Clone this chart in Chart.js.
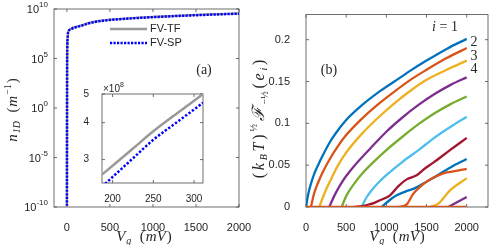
<!DOCTYPE html>
<html>
<head>
<meta charset="utf-8">
<script src="https://cdn.jsdelivr.net/npm/chart.js@4.4.1/dist/chart.umd.min.js"></script>
<style>
    body { margin: 0; background: #fff; }
    #wrap { position: relative; width: 491px; height: 245px; overflow: hidden; }
    canvas { position: absolute; }
</style>
</head>
<body>
<div id="wrap">
    <canvas id="chartA" width="270" height="245" style="left:0;top:0;width:270px;height:245px"></canvas>
    <canvas id="chartB" width="246" height="245" style="left:245px;top:0;width:246px;height:245px"></canvas>
    <canvas id="inset" width="130" height="122" style="left:80px;top:80px;width:130px;height:122px"></canvas>
</div>
<script>
// panel (a): n_1D vs gate voltage
const vgMain = [0, 2, 4, 8, 15, 40, 75, 150, 190, 250, 311, 400, 500, 750, 1000, 1250, 1500, 1750, 2000];
const nTF = [1e-12, 1e3, 1e6, 1e7, 5e7, 9e7, 1.3e8, 2e8, 2.5e8, 3.7e8, 5e8, 6.6e8, 8.3e8, 1.2e9, 1.6e9, 2e9, 2.5e9, 3e9, 3.6e9];
const nSP = [1e-12, 1e3, 9e5, 9e6, 4.6e7, 8.3e7, 1.2e8, 1.85e8, 2.35e8, 3.5e8, 4.67e8, 6.2e8, 7.8e8, 1.13e9, 1.5e9, 1.9e9, 2.35e9, 2.85e9, 3.4e9];
const seriesNames = ["FV-TF", "FV-SP"];
const xTicksA = [0, 500, 1000, 1500, 2000];
const yTicksA = [1e-10, 1e-5, 1, 1e5, 1e10];

// inset (zoom around 200-300 mV)
const vgInset = [187, 200, 225, 250, 275, 300, 311];
const insetTF = [2.67e8, 2.86e8, 3.27e8, 3.74e8, 4.22e8, 4.74e8, 5.0e8];
const insetSP = [2.43e8, 2.62e8, 3.03e8, 3.5e8, 3.94e8, 4.43e8, 4.67e8];
const xTicksInset = [200, 250, 300];
const yTicksInset = [3e8, 4e8, 5e8];

// panel (b): one [Vg, value] list per subband i
const sub1 = [[0, 0], [25, 0.014], [50, 0.024], [100, 0.039], [150, 0.050], [200, 0.060], [300, 0.078], [400, 0.092], [500, 0.104], [700, 0.122], [900, 0.137], [1100, 0.150], [1300, 0.163], [1500, 0.175], [1750, 0.189], [2000, 0.201]];
const sub2 = [[62, 0], [100, 0.016], [150, 0.029], [200, 0.040], [300, 0.058], [400, 0.073], [500, 0.086], [700, 0.106], [900, 0.123], [1100, 0.138], [1300, 0.152], [1500, 0.164], [1750, 0.178], [2000, 0.190]];
const sub3 = [[166, 0], [200, 0.009], [250, 0.021], [300, 0.031], [400, 0.050], [500, 0.065], [700, 0.088], [900, 0.107], [1100, 0.124], [1300, 0.139], [1500, 0.152], [1750, 0.164], [2000, 0.175]];
const sub4 = [[290, 0], [350, 0.013], [400, 0.022], [450, 0.030], [500, 0.037], [600, 0.049], [800, 0.070], [1000, 0.090], [1200, 0.107], [1400, 0.122], [1600, 0.135], [1800, 0.146], [2000, 0.155]];
const sub5 = [[444, 0], [500, 0.013], [550, 0.021], [600, 0.028], [700, 0.040], [800, 0.050], [1000, 0.068], [1200, 0.084], [1400, 0.099], [1600, 0.112], [1800, 0.123], [2000, 0.132]];
const sub6 = [[693, 0], [750, 0.011], [800, 0.018], [900, 0.029], [1000, 0.038], [1200, 0.054], [1400, 0.068], [1600, 0.083], [1800, 0.096], [2000, 0.108]];
const sub7 = [[600, 0], [700, 0.001], [755, 0.0023], [850, 0.005], [921, 0.008], [1046, 0.014], [1150, 0.025], [1253, 0.033], [1377, 0.038], [1480, 0.046], [1585, 0.053], [1792, 0.068], [2000, 0.0826]];
const sub8 = [[942, 0], [1050, 0.009], [1129, 0.014], [1250, 0.019], [1336, 0.0217], [1460, 0.028], [1585, 0.035], [1792, 0.047], [2000, 0.0574]];
const sub9 = [[1150, 0], [1253, 0.003], [1336, 0.016], [1460, 0.0275], [1585, 0.035], [1700, 0.04], [1792, 0.042], [2000, 0.0457]];
const sub10 = [[1540, 0], [1647, 0.004], [1792, 0.0198], [2000, 0.0345]];
const sub11 = [[1770, 0], [2000, 0.012]];
const subZero = [[0, 0], [2000, 0]];
const xTicksB = [0, 500, 1000, 1500, 2000];
const yTicksB = [0, 0.05, 0.1, 0.15, 0.2];

const matlabColors = ["#0072BD", "#D95319", "#EDB120", "#7E2F8E", "#77AC30", "#4DBEEE", "#A2142F"];
const axisColor = "#262626";
const tickFont = { family: "'Liberation Sans', Arial", size: 11 };

Chart.defaults.animation = false;
Chart.defaults.responsive = false;
Chart.defaults.color = axisColor;

function toXY(xs, ys) { return xs.map((x, i) => ({ x: x, y: ys[i] })); }
function pairs(arr) { return arr.map(p => ({ x: p[0], y: p[1] })); }

// text with sub/superscripts: parts = [text, font, dy]
function drawMath(ctx, parts, x, y, angle, gap) {
    gap = gap || 0;
    ctx.save();
    ctx.translate(x, y);
    ctx.rotate(angle || 0);
    ctx.textAlign = "left";
    ctx.textBaseline = "alphabetic";
    ctx.fillStyle = axisColor;
    let total = -gap;
    parts.forEach(p => { ctx.font = p[1]; total += ctx.measureText(p[0]).width + gap; });
    let cx = -total / 2;
    parts.forEach(p => {
        ctx.font = p[1];
        ctx.fillText(p[0], cx, p[2] || 0);
        cx += ctx.measureText(p[0]).width + gap;
    });
    ctx.restore();
}

const IT = "italic 15px 'Liberation Serif'";
const RM = "15px 'Liberation Serif'";
const SUB = "italic 10px 'Liberation Serif'";
const SUBR = "10px 'Liberation Serif'";

// box with inward ticks on all four sides (matlab style)
const framePlugin = {
    id: "frame",
    beforeDatasetsDraw(chart) {
        const { ctx, chartArea: a, scales } = chart;
        const tl = 3;
        ctx.save();
        ctx.strokeStyle = "#4a4a4a";
        ctx.lineWidth = 0.8;
        ctx.strokeRect(a.left, a.top, a.right - a.left, a.bottom - a.top);
        ctx.beginPath();
        scales.x.ticks.forEach(t => {
            const px = scales.x.getPixelForValue(t.value);
            ctx.moveTo(px, a.bottom); ctx.lineTo(px, a.bottom - tl);
            ctx.moveTo(px, a.top); ctx.lineTo(px, a.top + tl);
        });
        scales.y.ticks.forEach(t => {
            const py = scales.y.getPixelForValue(t.value);
            ctx.moveTo(a.left, py); ctx.lineTo(a.left + tl, py);
            ctx.moveTo(a.right, py); ctx.lineTo(a.right - tl, py);
        });
        ctx.stroke();
        ctx.restore();
    }
};

// ---------- panel (a) ----------
const annotA = {
    id: "annotA",
    afterDraw(chart) {
        const ctx = chart.ctx;
        const ys = chart.scales.y;
        // 10^k tick labels
        ctx.save();
        ctx.fillStyle = axisColor;
        ctx.textBaseline = "middle";
        ctx.textAlign = "right";
        ys.ticks.forEach(t => {
            const py = ys.getPixelForValue(t.value);
            const ex = String(Math.round(Math.log10(t.value)));
            ctx.font = "8px 'Liberation Sans', Arial";
            const ew = ctx.measureText(ex).width;
            ctx.fillText(ex, 48, py - 4);
            ctx.font = "11px 'Liberation Sans', Arial";
            ctx.fillText("10", 48 - ew, py + 1);
        });
        // legend
        chart.data.datasets.forEach((ds, i) => {
            const y = 29 + 14 * i;
            ctx.beginPath();
            ctx.strokeStyle = ds.borderColor;
            ctx.lineWidth = ds.borderWidth;
            ctx.setLineDash(ds.borderDash || []);
            ctx.moveTo(110, y); ctx.lineTo(147, y);
            ctx.stroke();
            ctx.setLineDash([]);
            ctx.textAlign = "left";
            ctx.font = "11px 'Liberation Sans', Arial";
            ctx.fillText(ds.label, 150, y);
        });
        ctx.font = "14px 'Liberation Serif'";
        ctx.textAlign = "center";
        ctx.fillText("(a)", 204, 70);
        ctx.restore();
        drawMath(ctx, [["V", IT], ["g", SUB, 3], ["  (", RM], ["mV", IT], [")", RM]], 144, 241, 0, 1);
        drawMath(ctx, [["n", IT], ["1D", SUB, 3], ["  (", RM], ["m", IT], ["\u22121", SUBR, -6], [")", RM]], 17, 110, -Math.PI / 2, 1);
    }
};

new Chart(document.getElementById("chartA").getContext("2d"), {
    type: "line",
    data: {
        datasets: [
            { label: seriesNames[0], data: toXY(vgMain, nTF), borderColor: "#999999", borderWidth: 2.3, order: 0 },
            { label: seriesNames[1], data: toXY(vgMain, nSP), borderColor: "#0000FF", borderWidth: 2.5, borderDash: [2.2, 1.3], order: -1 }
        ]
    },
    options: {
        layout: { padding: { left: 0, top: 9, right: 31, bottom: 0 } },
        elements: { point: { radius: 0 }, line: { cubicInterpolationMode: "monotone" } },
        plugins: { legend: { display: false }, tooltip: { enabled: false } },
        scales: {
            x: {
                type: "linear", min: -150, max: 2000,
                grid: { display: false }, border: { display: false },
                ticks: { font: tickFont, padding: 6, maxRotation: 0, callback: v => String(v) },
                afterBuildTicks: s => { s.ticks = xTicksA.map(v => ({ value: v })); },
                afterFit: s => { s.height = 38; }
            },
            y: {
                type: "logarithmic", min: 1e-10, max: 1e10,
                grid: { display: false }, border: { display: false },
                ticks: { display: false },
                afterBuildTicks: s => { s.ticks = yTicksA.map(v => ({ value: v })); },
                afterFit: s => { s.width = 54; }
            }
        }
    },
    plugins: [framePlugin, annotA]
});

// ---------- inset ----------
const annotInset = {
    id: "annotInset",
    afterDraw(chart) {
        const ctx = chart.ctx;
        ctx.save();
        ctx.fillStyle = axisColor;
        ctx.textBaseline = "middle";
        ctx.textAlign = "left";
        ctx.font = "10px 'Liberation Sans', Arial";
        ctx.fillText("\u00d710", 23, 9);
        const w = ctx.measureText("\u00d710").width;
        ctx.font = "7px 'Liberation Sans', Arial";
        ctx.fillText("8", 23 + w, 5);
        ctx.restore();
    }
};

const insetBg = {
    id: "insetBg",
    beforeDraw(chart) {
        const { ctx, chartArea: a } = chart;
        ctx.save();
        ctx.fillStyle = "#fff";
        ctx.fillRect(a.left, a.top, a.right - a.left, a.bottom - a.top);
        ctx.restore();
    }
};

new Chart(document.getElementById("inset").getContext("2d"), {
    type: "line",
    data: {
        datasets: [
            { data: toXY(vgInset, insetTF), borderColor: "#999999", borderWidth: 2.5, order: 0 },
            { data: toXY(vgInset, insetSP), borderColor: "#0000FF", borderWidth: 2.5, borderDash: [2.4, 1.8], order: -1 }
        ]
    },
    options: {
        layout: { padding: { left: 0, top: 14, right: 7, bottom: 0 } },
        elements: { point: { radius: 0 }, line: { cubicInterpolationMode: "monotone" } },
        plugins: { legend: { display: false }, tooltip: { enabled: false } },
        scales: {
            x: {
                type: "linear", min: 187, max: 311,
                grid: { display: false }, border: { display: false },
                ticks: { font: { family: tickFont.family, size: 10 }, padding: 2, maxRotation: 0, callback: v => String(v) },
                afterBuildTicks: s => { s.ticks = xTicksInset.map(v => ({ value: v })); },
                afterFit: s => { s.height = 19; }
            },
            y: {
                type: "logarithmic", min: 2.5e8, max: 5e8,
                grid: { display: false }, border: { display: false },
                ticks: { font: { family: tickFont.family, size: 10 }, padding: 5, callback: v => String(Math.round(v / 1e8)) },
                afterBuildTicks: s => { s.ticks = yTicksInset.map(v => ({ value: v })); },
                afterFit: s => { s.width = 22; }
            }
        }
    },
    plugins: [insetBg, framePlugin, annotInset]
});

// ---------- panel (b) ----------
const subbands = [sub1, sub2, sub3, sub4, sub5, sub6, sub7, sub8, sub9, sub10, sub11];
const datasetsB = subbands.map((d, k) => ({
    data: pairs(d), borderColor: matlabColors[k % 7], borderWidth: 2.3, order: -k
}));
datasetsB.push({ data: pairs(subZero), borderColor: matlabColors[1], borderWidth: 2.6, order: -20 });

const IT16 = "italic 16px 'Liberation Serif'";
const RM16 = "16px 'Liberation Serif'";

const annotB = {
    id: "annotB",
    afterDraw(chart) {
        const ctx = chart.ctx;
        ctx.save();
        ctx.fillStyle = axisColor;
        ctx.textBaseline = "middle";
        ctx.textAlign = "center";
        ctx.font = "14px 'Liberation Serif'";
        ctx.fillText("(b)", 84, 70);
        ctx.fillText("2", 229, 42);
        ctx.fillText("3", 229, 56);
        ctx.fillText("4", 229, 69);
        ctx.restore();
        drawMath(ctx, [["i", "italic 14px 'Liberation Serif'"], [" = 1", "14px 'Liberation Serif'"]], 200, 31);
        drawMath(ctx, [["V", IT], ["g", SUB, 3], ["  (", RM], ["mV", IT], [")", RM]], 152, 241, 0, 1);
        drawMath(ctx, [
            ["(", RM16], ["k", IT16], ["B", SUB, 3], ["T", IT16], [")", RM16], ["\u00bd", SUBR, -7],
            ["\u2131", "italic 17px 'DejaVu Serif'"], ["\u2212\u00bd", SUBR, 4], ["(", RM16], ["e", IT16], ["i", SUB, 3], [")", RM16]
        ], 19, 119, -Math.PI / 2, 2.8);
    }
};

new Chart(document.getElementById("chartB").getContext("2d"), {
    type: "line",
    data: { datasets: datasetsB },
    options: {
        layout: { padding: { left: 0, top: 9, right: 3, bottom: 0 } },
        elements: { point: { radius: 0 }, line: { cubicInterpolationMode: "monotone" } },
        plugins: { legend: { display: false }, tooltip: { enabled: false } },
        scales: {
            x: {
                type: "linear", min: 0, max: 2265,
                grid: { display: false }, border: { display: false },
                ticks: { font: tickFont, padding: 6, maxRotation: 0, callback: v => String(v) },
                afterBuildTicks: s => { s.ticks = xTicksB.map(v => ({ value: v })); },
                afterFit: s => { s.height = 38; }
            },
            y: {
                type: "linear", min: 0, max: 0.23,
                grid: { display: false }, border: { display: false },
                ticks: { font: tickFont, padding: 8, callback: v => String(v) },
                afterBuildTicks: s => { s.ticks = yTicksB.map(v => ({ value: v })); },
                afterFit: s => { s.width = 61; }
            }
        }
    },
    plugins: [framePlugin, annotB]
});
</script>
</body>
</html>
